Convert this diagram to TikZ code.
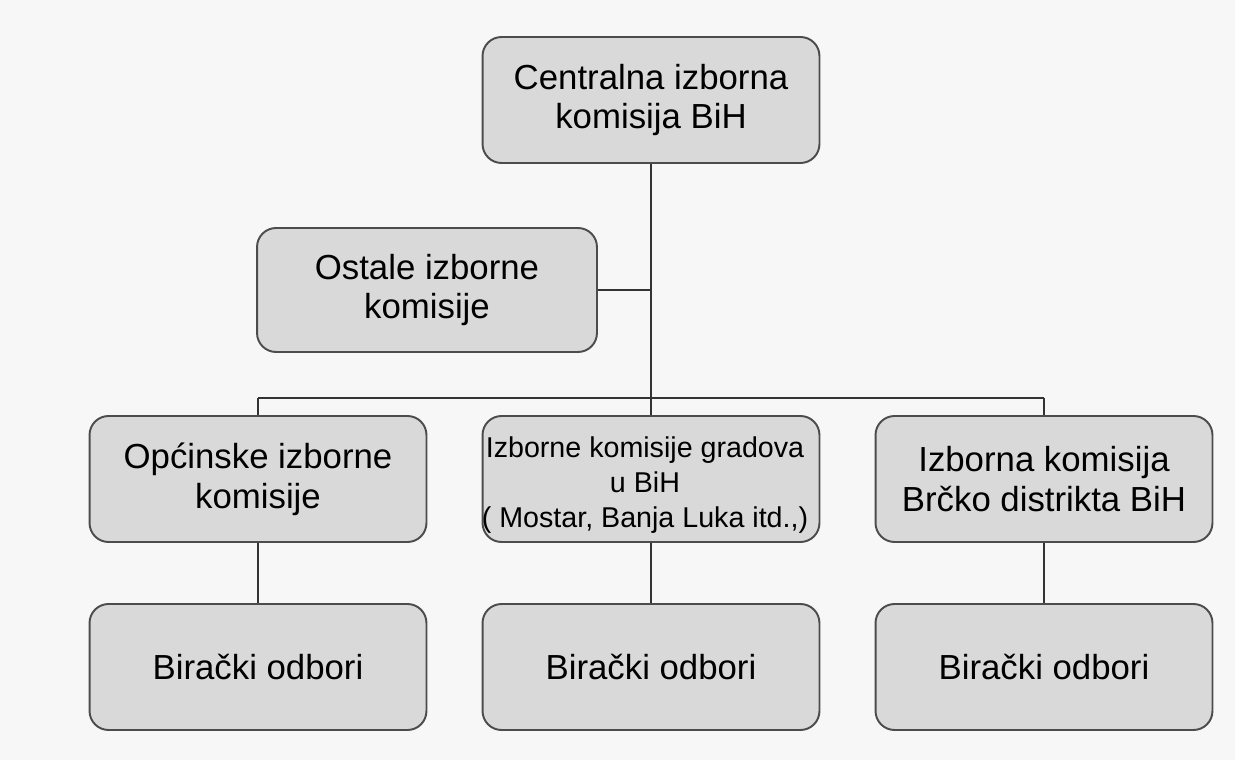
\documentclass[tikz,border=0pt]{standalone}
\usepackage{fontspec}
\setmainfont{Liberation Sans}
\usetikzlibrary{positioning}

\begin{document}
\begin{tikzpicture}[x=0.02cm, y=-0.02cm,
	box/.style={draw=black!70, fill=gray!30, line width=1.1pt, rounded corners=0.38cm,
		minimum width=6.74cm, minimum height=2.52cm, inner sep=0pt, align=center,
		font=\fontsize{19.8}{22.6}\selectfont},
	link/.style={draw=black!80, line width=1.2pt}]
	\fill[black!3] (0,0) rectangle (1235,760);
	\useasboundingbox (0,0) rectangle (1235,760);

	\node[box] (cik) at (651,100) {Centralna izborna\\komisija BiH};
	\node[box, minimum width=6.8cm, minimum height=2.48cm] (ostale) at (427,290) {Ostale izborne\\komisije};

	\node[box] (opc) at (258,479) {Općinske izborne\\komisije};
	\node[box] (grad) at (651,479) {};
	\node[font=\fontsize{16.3}{19.9}\selectfont, align=center, inner sep=0pt] (gradtxt) at (645,485) {Izborne komisije gradova\\u BiH\\( Mostar, Banja Luka itd.,)};
	\node[box] (brcko) at (1044,479) {Izborna komisija\\Brčko distrikta BiH};

	\node[box] (bo1) at (258,667) {Birački odbori};
	\node[box] (bo2) at (651,667) {Birački odbori};
	\node[box] (bo3) at (1044,667) {Birački odbori};

	\coordinate (mid) at (651,290);
	\coordinate (bus) at (651,398);
	\coordinate (busl) at (258,398);
	\coordinate (busr) at (1044,398);

	\draw[link] (cik) -- (mid) -- (bus);
	\draw[link] (ostale) -- (mid);
	\draw[link] (busl) -- (busr);
	\draw[link] (busl) -- (opc);
	\draw[link] (bus) -- (grad);
	\draw[link] (busr) -- (brcko);

	\draw[link] (opc) -- (bo1);
	\draw[link] (grad) -- (bo2);
	\draw[link] (brcko) -- (bo3);
\end{tikzpicture}
\end{document}
